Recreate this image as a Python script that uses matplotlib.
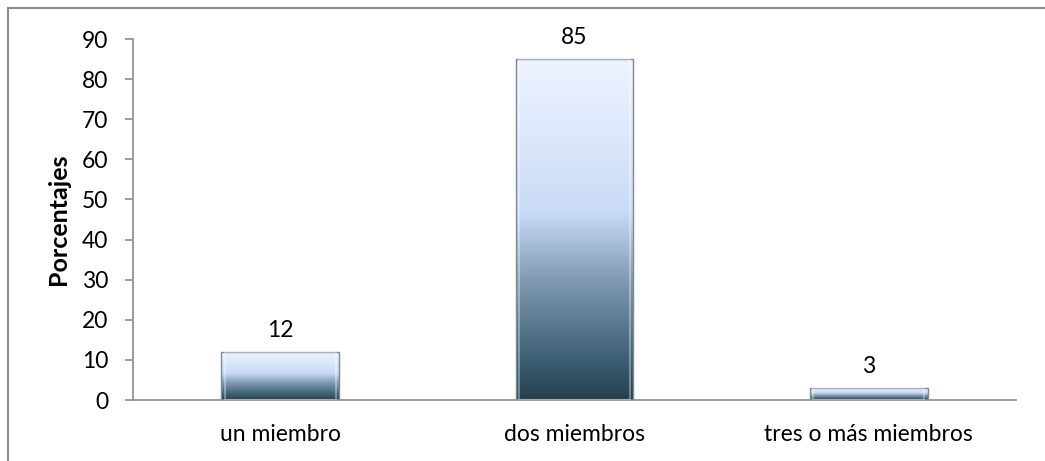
import numpy as np
import matplotlib.pyplot as plt
from matplotlib.colors import LinearSegmentedColormap
from matplotlib.patches import Rectangle

categories = ["un miembro", "dos miembros", "tres o más miembros"]
values = [12, 85, 3]
yticks = list(range(0, 100, 10))

plt.rcParams['font.family'] = ['Lato', 'DejaVu Sans']

fig = plt.figure(figsize=(10.45, 4.61), dpi=100)
ax = fig.add_axes([133 / 1045, 1 - 400 / 461, (1016 - 133) / 1045, (400 - 39) / 461])

# outer chart frame (left and top edges visible)
fig.add_artist(plt.Line2D([8 / 1045, 8 / 1045], [0, 1 - 8 / 461], color='#8c8c8c', lw=1.5,
                          transform=fig.transFigure))
fig.add_artist(plt.Line2D([8 / 1045, 1], [1 - 8 / 461, 1 - 8 / 461], color='#8c8c8c', lw=1.5,
                          transform=fig.transFigure))

grad = LinearSegmentedColormap.from_list(
    "bar", [(0.0, "#243f4f"), (0.12, "#3e5f74"), (0.35, "#7f9ab2"),
            (0.55, "#c9daf6"), (0.8, "#dfe9fc"), (1.0, "#eef3fe")])

x = np.arange(len(categories))
width = 0.4
ax.set_xlim(-0.5, len(categories) - 0.5)
ax.set_ylim(0, 90)

col = np.linspace(0, 1, 256).reshape(-1, 1)
for xi, v in zip(x, values):
    left = xi - width / 2
    im = ax.imshow(col, cmap=grad, origin='lower', aspect='auto',
                   extent=[left, left + width, 0, v], zorder=2, interpolation='bicubic')
    rect = Rectangle((left, 0), width, v, facecolor='none', edgecolor='none')
    ax.add_patch(rect)
    im.set_clip_path(rect)
    # bevelled sides
    ax.add_patch(Rectangle((left, 0), width, v, facecolor='none',
                           edgecolor='#7d8b96', lw=1.0, zorder=3))
    ax.add_patch(Rectangle((left + 0.012, 0), width - 0.024, v, facecolor='none',
                           edgecolor=(1, 1, 1, 0.35), lw=1.5, zorder=3))
    ax.annotate(f"{v}", (xi, v), xytext=(0, 8), textcoords='offset points',
                ha='center', va='bottom', fontsize=16.5, color='black')

ax.set_xticks(x)
ax.set_xticklabels(categories, fontsize=16.5)
ax.set_yticks(yticks)
ax.set_yticklabels([str(t) for t in yticks], fontsize=16.5)
ax.tick_params(axis='x', length=0, pad=17)
ax.tick_params(axis='y', length=6, width=1.2, color='#8c8c8c', pad=12)
ax.set_ylabel("Porcentajes", fontsize=18, fontweight='bold', labelpad=8)

for s in ['top', 'right']:
    ax.spines[s].set_visible(False)
for s in ['left', 'bottom']:
    ax.spines[s].set_color('#8c8c8c')
    ax.spines[s].set_linewidth(1.2)

fig.savefig("out.png", dpi=100)
